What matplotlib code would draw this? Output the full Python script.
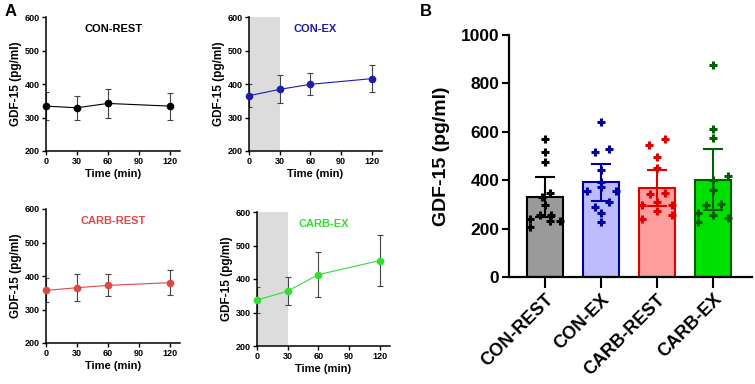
import matplotlib.pyplot as plt

plt.rcParams['font.family'] = ['Liberation Sans', 'DejaVu Sans']
plt.rcParams['font.weight'] = 'bold'

# Painel A: curso temporal (média +/- DP)
tempos = [0, 30, 60, 120]
grupos = ['CON-REST', 'CON-EX', 'CARB-REST', 'CARB-EX']
medias = {
    'CON-REST': [334, 329, 342, 334],
    'CON-EX': [365, 384, 399, 416],
    'CARB-REST': [357, 365, 372, 380],
    'CARB-EX': [337, 364, 413, 455],
}
desvios = {
    'CON-REST': [42, 35, 42, 40],
    'CON-EX': [34, 42, 33, 40],
    'CARB-REST': [36, 41, 33, 37],
    'CARB-EX': [38, 41, 68, 77],
}
cores_linha = {
    'CON-REST': '#000000',
    'CON-EX': '#1c1cb0',
    'CARB-REST': '#e04848',
    'CARB-EX': '#33dd33',
}

# Painel B: médias, DP e valores individuais
medias_barra = [330, 391, 368, 402]
desvios_barra = [82, 78, 74, 125]
individuais = [
    [570, 515, 475, 346, 330, 297, 256, 256, 239, 206, 231, 231],
    [640, 528, 516, 441, 392, 371, 355, 355, 309, 289, 264, 227],
    [569, 544, 495, 449, 346, 342, 309, 297, 297, 272, 256, 239],
    [874, 610, 573, 416, 400, 359, 301, 297, 264, 256, 243, 227],
]
cores_preench = ['#9a9a9a', '#bcbcff', '#ff9c9c', '#00e000']
cores_borda = ['#000000', '#0000a0', '#e00000', '#006000']

# deslocamento horizontal dos pontos (fração da largura entre barras)
desloc = [
    [0, 0, 0, 0.09, -0.06, 0, -0.1, 0.1, -0.27, -0.27, 0.09, 0.27],
    [0, 0.14, -0.11, 0, 0, 0, -0.25, 0.27, 0.14, -0.11, 0, 0],
    [0.14, -0.14, 0, 0, 0.14, -0.12, 0, -0.27, 0.27, 0, 0.27, -0.27],
    [0, 0, 0, 0.27, 0, 0, 0.14, -0.12, -0.27, 0, 0.27, -0.27],
]

W, H = 755, 384
fig = plt.figure(figsize=(W / 100, H / 100), dpi=100)

# posições em pixels (esq, dir, base, topo)
posicoes = {
    'CON-REST': (46, 180, 151, 17),
    'CON-EX': (249, 382, 151, 17),
    'CARB-REST': (46, 180, 343, 209),
    'CARB-EX': (257, 390, 346, 212),
}

def px_axes(l, r, b, t):
    return fig.add_axes([l / W, 1 - b / H, (r - l) / W, (b - t) / H])

for g in grupos:
    l, r, b, t = posicoes[g]
    ax = px_axes(l, r, b, t)
    cor = cores_linha[g]
    if g.endswith('EX'):
        ax.axvspan(0, 30, color='#dcdcdc', zorder=0, lw=0)
    ax.plot(tempos, medias[g], color=cor, lw=0.8, zorder=2)
    ax.errorbar(tempos, medias[g], yerr=desvios[g], fmt='none', ecolor='#444444',
                elinewidth=0.8, capsize=2.5, capthick=0.8, zorder=2)
    ax.plot(tempos, medias[g], 'o', color=cor, ms=4.5, zorder=3, clip_on=False)
    ax.set_xlim(0, 130)
    ax.set_ylim(200, 600)
    ax.set_xticks([0, 30, 60, 90, 120])
    ax.set_yticks([200, 300, 400, 500, 600])
    ax.spines['top'].set_visible(False)
    ax.spines['right'].set_visible(False)
    for s in ['left', 'bottom']:
        ax.spines[s].set_linewidth(1.1)
    ax.tick_params(labelsize=6.5, width=1, length=3, pad=1.5)
    ax.set_xlabel('Time (min)', fontsize=8, fontweight='bold', labelpad=2)
    ax.set_ylabel('GDF-15 (pg/ml)', fontsize=8.5, fontweight='bold', labelpad=2)
    ax.text(65, 564, g, color=cor, fontsize=8, fontweight='bold', ha='center', va='center')

# Painel B
axb = px_axes(509, 752, 277, 35)
xs = range(len(grupos))
axb.bar(xs, medias_barra, width=0.65, color=cores_preench, edgecolor=cores_borda,
        linewidth=1.5, zorder=1)
for i in xs:
    axb.errorbar(i, medias_barra[i], yerr=desvios_barra[i], fmt='none',
                 ecolor=cores_borda[i], elinewidth=1.5, capsize=7, capthick=1.5, zorder=2)
    xp = [i + d for d in desloc[i]]
    axb.plot(xp, individuais[i], '+', color=cores_borda[i], ms=6, mew=2.2, zorder=3)
axb.set_xlim(-0.65, 3.7)
axb.set_ylim(0, 1000)
axb.set_yticks([0, 200, 400, 600, 800, 1000])
axb.set_xticks(list(xs))
axb.set_xticklabels(grupos, rotation=45, ha='right', rotation_mode='anchor', fontsize=13)
axb.spines['top'].set_visible(False)
axb.spines['right'].set_visible(False)
for s in ['left', 'bottom']:
    axb.spines[s].set_linewidth(1.6)
axb.tick_params(axis='y', labelsize=12.5, width=1.5, length=5, pad=2)
axb.tick_params(axis='x', width=1.5, length=8, pad=2)
axb.set_ylabel('GDF-15 (pg/ml)', fontsize=14, fontweight='bold', labelpad=8)

fig.text(5 / W, 1 - 12 / H, 'A', fontsize=12, fontweight='bold', va='center')
fig.text(420 / W, 1 - 12 / H, 'B', fontsize=12, fontweight='bold', va='center')

fig.savefig('out.png', dpi=100)
